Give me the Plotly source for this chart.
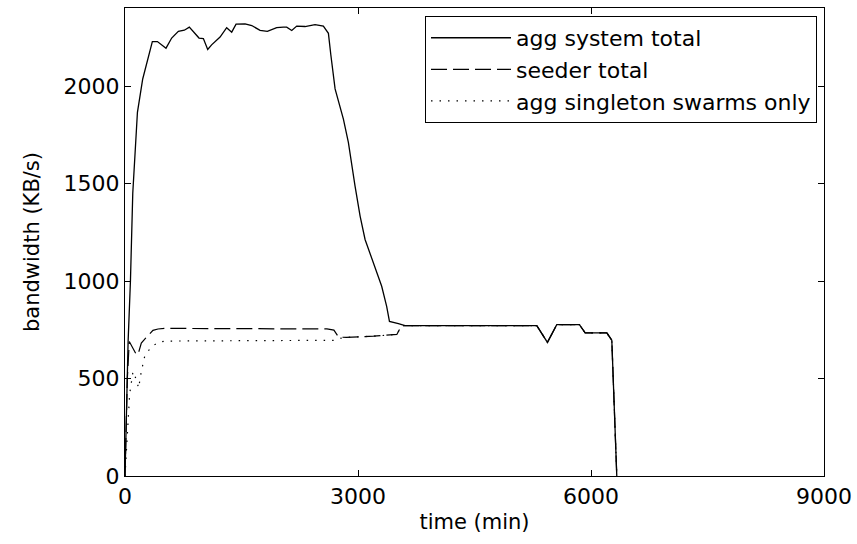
import plotly.graph_objects as go

# agg system total
time_total = [0, 20, 40, 70, 100, 160, 228, 352, 417, 528, 601, 687, 764, 828, 953, 1009,
              1065, 1115, 1224, 1309, 1374, 1430, 1546, 1632, 1739, 1833, 1953, 2039, 2082,
              2147, 2211, 2318, 2447, 2554, 2619, 2650, 2683, 2705, 2812, 2876, 2962, 3027,
              3091, 3198, 3305, 3369, 3405, 3520, 3606, 5302, 5439, 5559, 5851, 5925, 6204,
              6268, 6332]
total = [0, 450, 690, 1000, 1450, 1865, 2036, 2228, 2228, 2194, 2246, 2280, 2286, 2302, 2246,
         2243, 2187, 2211, 2251, 2299, 2276, 2317, 2319, 2310, 2285, 2280, 2299, 2302, 2302,
         2285, 2307, 2305, 2315, 2307, 2270, 2160, 2045, 1985, 1830, 1711, 1487, 1333,
         1213, 1094, 973, 870, 793, 781, 771, 771, 685, 776, 776, 734, 734,
         696, 0]

# seeder total
time_seed = [0, 30, 55, 100, 150, 180, 210, 296, 360, 425, 520, 2600, 2690, 2750, 2850,
             3200, 3500, 3560, 3606, 5302, 5439, 5559, 5851, 5925, 6204, 6268, 6332]
seed = [0, 500, 690, 660, 620, 640, 682, 720, 747, 754, 757, 754, 748, 712, 711,
        717, 726, 770, 771, 771, 685, 776, 776, 734, 734, 696, 0]

# agg singleton swarms only
time_single = [0, 30, 60, 103, 146, 175, 210, 253, 326, 412, 510, 2700, 2750, 2850,
               3200, 3500, 3560, 3606, 5302, 5439, 5559, 5851, 5925, 6204, 6268, 6332]
single = [0, 250, 420, 536, 494, 451, 536, 613, 656, 682, 692, 696, 705, 711,
          717, 726, 770, 771, 771, 685, 776, 776, 734, 734, 696, 0]

x_ticks = [0, 3000, 6000, 9000]
y_ticks = [0, 500, 1000, 1500, 2000]

FONT = "DejaVu Sans"

fig = go.Figure()
fig.add_trace(go.Scatter(x=time_total, y=total, mode="lines", name="agg system total",
                         line=dict(color="black", width=1.3)))
fig.add_trace(go.Scatter(x=time_seed, y=seed, mode="lines", name="seeder total",
                         line=dict(color="black", width=1.2, dash="16px,6px")))
fig.add_trace(go.Scatter(x=time_single, y=single, mode="lines", name="agg singleton swarms only",
                         line=dict(color="black", width=1.2, dash="1.5px,7px")))

axis_common = dict(showgrid=False, zeroline=False, showline=True, linecolor="black",
                   linewidth=1.2, mirror="ticks", ticks="inside", ticklen=6,
                   tickcolor="black", tickwidth=1, automargin=False,
                   tickfont=dict(family=FONT, size=22, color="black"))

fig.update_xaxes(range=[0, 9000], tickvals=x_ticks, ticktext=[str(v) for v in x_ticks],
                 title=dict(text="time (min)", font=dict(family=FONT, size=21, color="black"),
                            standoff=6),
                 **axis_common)
fig.update_yaxes(range=[0, 2400], tickvals=y_ticks, ticktext=[str(v) for v in y_ticks],
                 title=dict(text="bandwidth (KB/s)", font=dict(family=FONT, size=21, color="black"),
                            standoff=18),
                 **axis_common)

fig.update_layout(
    width=857, height=544,
    margin=dict(l=125, r=33, t=8, b=68, autoexpand=False),
    plot_bgcolor="white", paper_bgcolor="white",
    font=dict(family=FONT, size=20, color="black"),
    legend=dict(x=0.99, y=0.983, xanchor="right", yanchor="top",
                bordercolor="black", borderwidth=1, bgcolor="white",
                font=dict(family=FONT, size=22, color="black"),
                itemwidth=80, tracegroupgap=0),
    showlegend=True,
)

fig.write_html("out.html",
               config={"displayModeBar": False},
               post_script="document.body.style.margin='0';document.body.style.overflow='hidden';")
